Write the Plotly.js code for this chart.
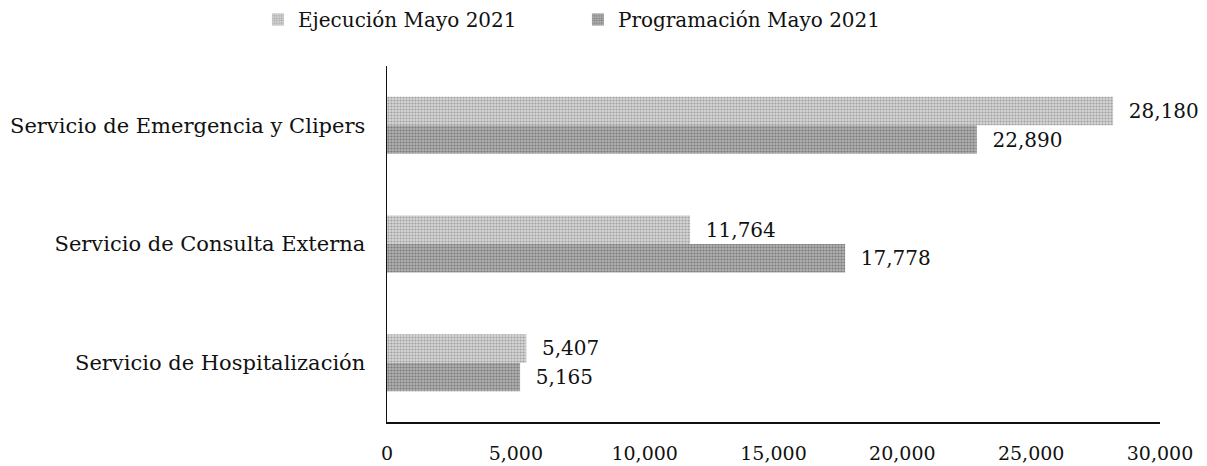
<!DOCTYPE html>
<html>
<head>
<meta charset="utf-8">
<script src="https://cdn.plot.ly/plotly-3.0.1.min.js"></script>
<style>html,body{margin:0;padding:0;background:#fff;}#chart{width:1207px;height:466px;}</style>
</head>
<body>
<div id="chart"></div>
<script>
const categories = ["Servicio de Emergencia y Clipers", "Servicio de Consulta Externa", "Servicio de Hospitalización"];
const seriesNames = ["Ejecución Mayo 2021", "Programación Mayo 2021"];
const ejecucion = [28180, 11764, 5407];
const programacion = [22890, 17778, 5165];
const xTicks = [0, 5000, 10000, 15000, 20000, 25000, 30000];
const xTickLabels = ["0", "5,000", "10,000", "15,000", "20,000", "25,000", "30,000"];

const fmt = v => "  " + v.toLocaleString("en-US");
const fam = "DejaVu Serif, Liberation Serif, serif";
const valueFont = {family: fam, size: 20, color: "#111"};
const tickFont = {family: fam, size: 19, color: "#111"};
const catFont = {family: fam, size: 21, color: "#111"};
const legendFont = {family: fam, size: 20, color: "#111"};

const traces = [
  {
    type: "bar", orientation: "h", name: seriesNames[0],
    y: categories, x: ejecucion,
    text: ejecucion.map(fmt), textposition: "outside", cliponaxis: false,
    textfont: valueFont,
    marker: {color: "#cfcfcf", pattern: {shape: ".", size: 3, solidity: 0.4, fgcolor: "#a0a0a0", bgcolor: "#d6d6d6"}},
    hoverinfo: "none"
  },
  {
    type: "bar", orientation: "h", name: seriesNames[1],
    y: categories, x: programacion,
    text: programacion.map(fmt), textposition: "outside", cliponaxis: false,
    textfont: valueFont,
    marker: {color: "#9e9e9e", pattern: {shape: ".", size: 3, solidity: 0.4, fgcolor: "#7a7a7a", bgcolor: "#b0b0b0"}},
    hoverinfo: "none"
  }
];

const layout = {
  width: 1207, height: 466,
  margin: {l: 387, r: 47, t: 66, b: 44, autoexpand: false},
  paper_bgcolor: "#fff", plot_bgcolor: "#fff",
  font: tickFont,
  barmode: "group",
  bargap: 0.52, bargroupgap: 0,
  showlegend: true,
  legend: {orientation: "h", xref: "container", yref: "container", x: 0.2137, xanchor: "left", y: 1, yanchor: "top",
           font: legendFont, itemwidth: 30, traceorder: "normal", entrywidth: 275, entrywidthmode: "pixels"},
  xaxis: {
    range: [0, 30000], tickvals: xTicks, ticktext: xTickLabels,
    showgrid: false, zeroline: false, showline: true, linecolor: "#111", linewidth: 1.5,
    ticks: "outside", ticklen: 14, tickcolor: "rgba(0,0,0,0)", tickfont: tickFont, fixedrange: true
  },
  yaxis: {
    autorange: "reversed", showgrid: false, zeroline: false,
    showline: true, linecolor: "#111", linewidth: 1.5,
    ticks: "outside", ticklen: 16, tickcolor: "rgba(0,0,0,0)", tickfont: catFont, fixedrange: true
  }
};

Plotly.newPlot("chart", traces, layout, {displayModeBar: false, staticPlot: true});
</script>
</body>
</html>
